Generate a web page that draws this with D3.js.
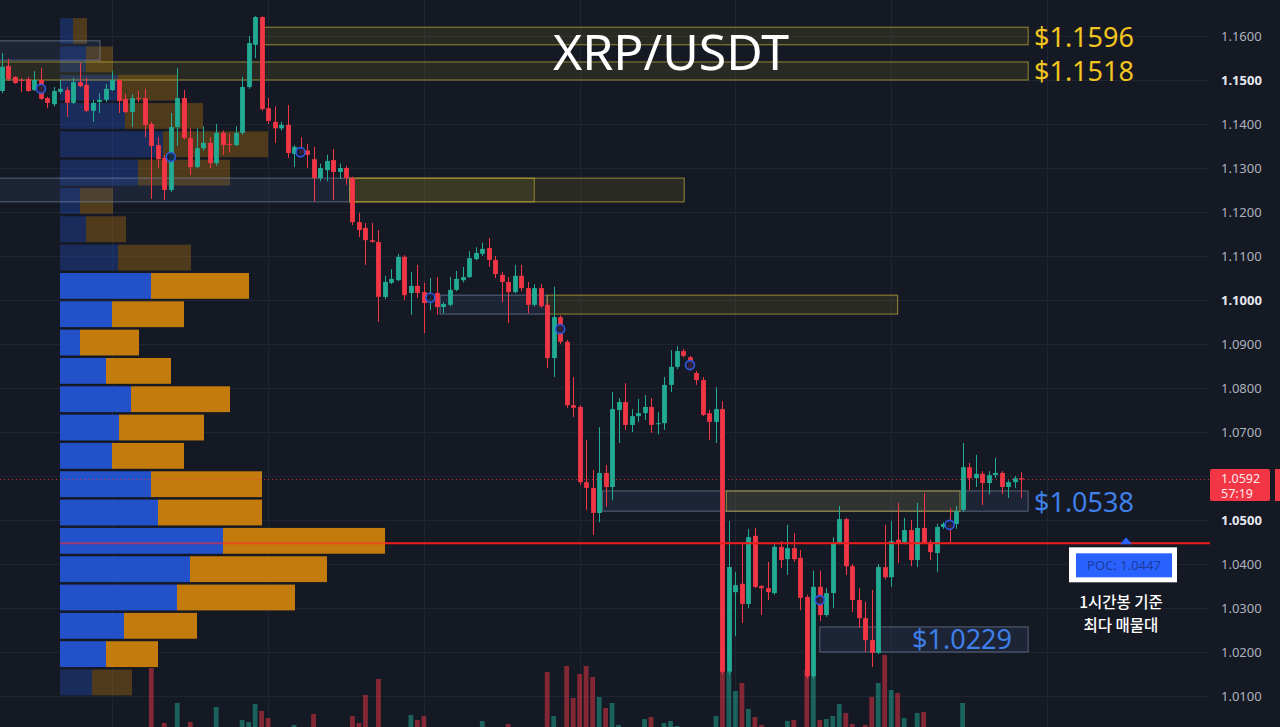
<!DOCTYPE html>
<html>
<head>
<meta charset="utf-8">
<script src="https://cdn.jsdelivr.net/npm/d3@7"></script>
<style>
  body { margin: 0; background: #151924; overflow: hidden; }
  svg { display: block; }
</style>
</head>
<body>
<div id="chart"></div>
<script>
// XRP/USDT 1h candles + volume profile

// candles: [open, high, low, close]
var candles = [
  [1.1475,1.1561,1.1470,1.1530],[1.1532,1.1548,1.1498,1.1502],[1.1507,1.1509,1.1491,1.1493],[1.1500,1.1505,1.1473,1.1498],
  [1.1502,1.1507,1.1473,1.1475],[1.1477,1.1520,1.1475,1.1500],[1.1500,1.1527,1.1455,1.1457],[1.1459,1.1462,1.1436,1.1448],
  [1.1445,1.1484,1.1440,1.1475],[1.1473,1.1500,1.1468,1.1480],[1.1477,1.1484,1.1416,1.1448],[1.1448,1.1505,1.1445,1.1495],
  [1.1495,1.1539,1.1484,1.1486],[1.1489,1.1505,1.1427,1.1430],[1.1430,1.1455,1.1405,1.1448],[1.1450,1.1470,1.1425,1.1455],
  [1.1455,1.1491,1.1450,1.1480],[1.1477,1.1520,1.1475,1.1500],[1.1500,1.1502,1.1425,1.1452],[1.1457,1.1468,1.1425,1.1427],
  [1.1427,1.1468,1.1393,1.1459],[1.1459,1.1475,1.1450,1.1457],[1.1459,1.1480,1.1370,1.1398],[1.1400,1.1405,1.1230,1.1350],
  [1.1352,1.1370,1.1300,1.1320],[1.1323,1.1330,1.1227,1.1250],[1.1250,1.1425,1.1245,1.1393],[1.1393,1.1527,1.1350,1.1459],
  [1.1459,1.1477,1.1365,1.1368],[1.1368,1.1390,1.1284,1.1302],[1.1302,1.1390,1.1300,1.1345],[1.1345,1.1395,1.1340,1.1357],
  [1.1357,1.1370,1.1300,1.1311],[1.1311,1.1400,1.1305,1.1380],[1.1380,1.1385,1.1330,1.1352],[1.1355,1.1378,1.1335,1.1352],
  [1.1352,1.1395,1.1350,1.1380],[1.1380,1.1507,1.1375,1.1484],[1.1484,1.1600,1.1480,1.1584],[1.1580,1.1645,1.1550,1.1643],
  [1.1643,1.1645,1.1430,1.1434],[1.1436,1.1459,1.1400,1.1407],[1.1405,1.1440,1.1357,1.1390],[1.1390,1.1405,1.1385,1.1398],
  [1.1398,1.1443,1.1323,1.1334],[1.1332,1.1352,1.1302,1.1348],[1.1341,1.1370,1.1330,1.1334],[1.1340,1.1355,1.1300,1.1330],
  [1.1320,1.1348,1.1223,1.1277],[1.1277,1.1310,1.1270,1.1300],[1.1295,1.1330,1.1270,1.1316],[1.1318,1.1343,1.1227,1.1291],
  [1.1291,1.1310,1.1275,1.1300],[1.1300,1.1305,1.1262,1.1277],[1.1277,1.1280,1.1170,1.1177],[1.1177,1.1198,1.1143,1.1159],
  [1.1164,1.1175,1.1080,1.1136],[1.1136,1.1175,1.1130,1.1132],[1.1132,1.1159,1.0950,1.1007],[1.1007,1.1055,1.1002,1.1041],
  [1.1039,1.1070,1.1036,1.1048],[1.1045,1.1105,1.1043,1.1098],[1.1098,1.1102,1.1000,1.1011],[1.1016,1.1064,1.0966,1.1032],
  [1.1032,1.1080,1.1005,1.1016],[1.1018,1.1039,1.0925,1.0993],[1.0995,1.1050,1.0977,1.1002],[1.1016,1.1052,1.0966,1.0984],
  [1.0984,1.0995,1.0970,1.0991],[1.0989,1.1052,1.0985,1.1023],[1.1023,1.1066,1.1020,1.1048],[1.1045,1.1075,1.1040,1.1052],
  [1.1052,1.1111,1.1050,1.1095],[1.1093,1.1120,1.1090,1.1107],[1.1105,1.1130,1.1100,1.1116],[1.1118,1.1141,1.1075,1.1091],
  [1.1091,1.1100,1.1050,1.1059],[1.1057,1.1064,1.0995,1.1041],[1.1041,1.1052,1.0948,1.1018],[1.1018,1.1080,1.1015,1.1055],
  [1.1055,1.1080,1.1020,1.1027],[1.1027,1.1041,1.0970,1.0989],[1.0989,1.1036,1.0985,1.1027],[1.1027,1.1036,1.0982,1.0986],
  [1.0989,1.0995,1.0845,1.0868],[1.0868,1.1030,1.0825,1.0961],[1.0961,1.0965,1.0900,1.0905],[1.0905,1.0909,1.0755,1.0761],
  [1.0761,1.0825,1.0734,1.0755],[1.0757,1.0761,1.0580,1.0586],[1.0586,1.0682,1.0523,1.0573],[1.0573,1.0614,1.0466,1.0516],
  [1.0516,1.0711,1.0495,1.0607],[1.0607,1.0625,1.0530,1.0575],[1.0575,1.0791,1.0545,1.0752],[1.0750,1.0777,1.0675,1.0768],
  [1.0768,1.0811,1.0705,1.0716],[1.0716,1.0752,1.0700,1.0736],[1.0736,1.0775,1.0723,1.0743],[1.0743,1.0784,1.0727,1.0757],
  [1.0757,1.0777,1.0698,1.0716],[1.0718,1.0745,1.0695,1.0720],[1.0720,1.0825,1.0705,1.0807],[1.0807,1.0886,1.0791,1.0848],
  [1.0848,1.0895,1.0843,1.0884],[1.0884,1.0889,1.0870,1.0873],[1.0870,1.0873,1.0840,1.0843],[1.0834,1.0839,1.0807,1.0818],
  [1.0818,1.0825,1.0736,1.0739],[1.0743,1.0750,1.0682,1.0723],[1.0723,1.0802,1.0675,1.0752],[1.0752,1.0770,1.0150,1.0155],
  [1.0155,1.0498,1.0150,1.0393],[1.0336,1.0382,1.0236,1.0352],[1.0355,1.0450,1.0266,1.0309],[1.0309,1.0480,1.0300,1.0461],
  [1.0464,1.0482,1.0345,1.0348],[1.0350,1.0352,1.0284,1.0345],[1.0345,1.0405,1.0318,1.0336],[1.0334,1.0445,1.0330,1.0439],
  [1.0439,1.0452,1.0391,1.0409],[1.0411,1.0489,1.0375,1.0436],[1.0436,1.0470,1.0405,1.0411],[1.0414,1.0432,1.0295,1.0323],
  [1.0325,1.0330,1.0140,1.0145],[1.0145,1.0385,1.0140,1.0348],[1.0348,1.0385,1.0270,1.0284],[1.0284,1.0345,1.0280,1.0334],
  [1.0334,1.0461,1.0300,1.0448],[1.0448,1.0532,1.0445,1.0502],[1.0502,1.0505,1.0375,1.0395],[1.0395,1.0400,1.0291,1.0318],
  [1.0318,1.0345,1.0255,1.0277],[1.0277,1.0314,1.0200,1.0227],[1.0227,1.0341,1.0166,1.0198],[1.0198,1.0400,1.0195,1.0393],
  [1.0393,1.0489,1.0365,1.0370],[1.0370,1.0498,1.0348,1.0452],[1.0455,1.0539,1.0402,1.0448],[1.0450,1.0505,1.0445,1.0477],
  [1.0477,1.0500,1.0395,1.0409],[1.0409,1.0539,1.0393,1.0482],[1.0482,1.0561,1.0445,1.0448],[1.0450,1.0455,1.0409,1.0427],
  [1.0425,1.0491,1.0382,1.0484],[1.0484,1.0495,1.0480,1.0491],[1.0489,1.0527,1.0448,1.0482],[1.0491,1.0532,1.0480,1.0520],
  [1.0523,1.0675,1.0518,1.0620],[1.0620,1.0630,1.0568,1.0595],[1.0595,1.0648,1.0575,1.0605],[1.0605,1.0611,1.0534,1.0584],
  [1.0584,1.0611,1.0559,1.0602],[1.0602,1.0641,1.0595,1.0607],[1.0607,1.0611,1.0559,1.0575],[1.0575,1.0590,1.0550,1.0586],
  [1.0586,1.0600,1.0573,1.0595],[1.0595,1.0609,1.0550,1.0592]
];

var volumes = [
  3,3,3,3,3,3,3,3,3,3,
  3,3,3,3,3,3,3,3,3,3,
  3,3,3,67,3,12,3,32,3,13,
  3,3,3,28,3,3,3,15,13,31,
  24,17,3,3,3,10,3,3,21,3,
  3,3,3,3,19,12,40,3,56,3,
  3,3,3,20,15,19,3,3,3,3,
  3,3,3,3,14,3,3,3,11,3,
  3,3,3,3,63,19,3,69,37,61,
  69,58,38,27,32,10,3,3,3,16,
  18,3,12,14,9,3,3,3,3,3,
  19,85,63,44,52,26,18,10,3,3,
  3,14,15,3,65,59,15,16,19,31,
  22,11,3,10,38,52,80,45,42,17,
  3,22,23,3,3,3,3,3,32,3,
  3,3,3,3,3,3,3,3
];

// volume profile, rows top -> bottom
var profileTop = 1.1643, profileBottom = 1.0098;
var profileBuy  = [13,26,58,65,103,78,20,26,58,91,52,20,46,71,59,52,91,98,163,130,117,64,46,32];
var profileSell = [14,27,59,78,105,92,33,40,73,98,72,59,65,99,85,72,111,104,162,137,118,73,52,40];
var valueArea = [9, 22];
var pocPrice = 1.0447;

var gridTicks = [1.16,1.15,1.14,1.13,1.12,1.11,1.10,1.09,1.08,1.07,1.06,1.05,1.04,1.03,1.02,1.01];
var axisTicks = [1.16,1.15,1.14,1.13,1.12,1.11,1.10,1.09,1.08,1.07,1.05,1.04,1.03,1.02,1.01];
var boldTicks = [1.15, 1.10, 1.05];

// zones: start/end candle index, top/bottom price
var zones = [
  {s:-1,   e:15.1,  top:1.1589, bot:1.1545, kind:"blue"},
  {s:40,   e:158.1, top:1.1620, bot:1.1580, kind:"gold"},
  {s:-1,   e:158.1, top:1.1541, bot:1.1500, kind:"gold"},
  {s:-1,   e:53.6,  top:1.1277, bot:1.1223, kind:"blue"},
  {s:53.6, e:82,    top:1.1277, bot:1.1223, kind:"gold"},
  {s:53.6, e:105.1, top:1.1277, bot:1.1223, kind:"gold"},
  {s:67.5, e:84,    top:1.1011, bot:1.0968, kind:"blue"},
  {s:84,   e:138,   top:1.1011, bot:1.0968, kind:"gold"},
  {s:92.5, e:158.1, top:1.0566, bot:1.0520, kind:"blue"},
  {s:111.6,e:147.6, top:1.0566, bot:1.0520, kind:"gold"},
  {s:126,  e:158.1, top:1.0257, bot:1.0200, kind:"blue"}
];
var zoneLabels = [
  {text:"$1.1596", price:1.1596, color:"#f2c420"},
  {text:"$1.1518", price:1.1518, color:"#f2c420"},
  {text:"$1.0538", price:1.0538, color:"#3f7fe8"}
];

var markers = [[6,1.1480],[26,1.1325],[46,1.1336],[66,1.1005],[86,1.0934],[106,1.0852],[126,1.0318],[146,1.0489]];
var lastPrice = 1.0592, countdown = "57:19";

var W = 1280, H = 727, plotRight = 1210;
var up = "#22ab94", down = "#f23645";

var svg = d3.select("#chart").append("svg").attr("width", W).attr("height", H);
svg.append("rect").attr("width", W).attr("height", H).attr("fill", "#151924");

//scales
var x = d3.scaleLinear().domain([0, candles.length - 1]).range([2, 1021]);
var y = d3.scaleLinear().domain([1.01, 1.16]).range([696, 36]);
var vy = d3.scaleLinear().domain([0, 100]).range([735, 635]);
var pw = d3.scaleLinear().domain([0, d3.max(profileBuy, (d,i)=>d + profileSell[i])]).range([0, 325]);
var rowH = (profileTop - profileBottom) / profileBuy.length;

//grid
var grid = svg.append("g");
grid.selectAll(".h").data(gridTicks).enter().append("line")
  .attr("x1", 0).attr("x2", plotRight)
  .attr("y1", d=>Math.round(y(d)) + 0.5).attr("y2", d=>Math.round(y(d)) + 0.5)
  .attr("stroke", "#1f2432");
grid.selectAll(".v").data(d3.range(17, 200, 24).filter(i=>x(i) < 1200)).enter().append("line")
  .attr("x1", d=>Math.round(x(d)) + 0.5).attr("x2", d=>Math.round(x(d)) + 0.5)
  .attr("y1", 0).attr("y2", H)
  .attr("stroke", "#1f2432");

//volume bars
svg.append("g").selectAll("rect").data(volumes).enter().append("rect")
  .attr("x", (d,i)=>x(i) - 2.4).attr("width", 4.8)
  .attr("y", d=>vy(d)).attr("height", d=>vy(0) - vy(d))
  .attr("fill", (d,i)=>candles[i][3] >= candles[i][0] ? up : down)
  .attr("opacity", 0.5);

//volume profile
var prof = svg.append("g");
profileBuy.forEach((b, k)=>{
  var yTop = y(profileTop - k * rowH), yBot = y(profileTop - (k + 1) * rowH);
  var inVA = k >= valueArea[0] && k <= valueArea[1];
  var op = inVA ? 1 : 0.34;
  prof.append("rect").attr("x", 60).attr("y", yTop + 1).attr("width", pw(b)).attr("height", yBot - yTop - 2.5)
    .attr("fill", "#2351c9").attr("opacity", op);
  prof.append("rect").attr("x", 60 + pw(b)).attr("y", yTop + 1).attr("width", pw(profileSell[k])).attr("height", yBot - yTop - 2.5)
    .attr("fill", "#c27b0c").attr("opacity", op);
});

//zones
var zg = svg.append("g");
zones.forEach(z=>{
  var gold = z.kind == "gold";
  zg.append("rect")
    .attr("x", x(z.s)).attr("y", y(z.top))
    .attr("width", x(z.e) - x(z.s)).attr("height", y(z.bot) - y(z.top))
    .attr("fill", gold ? "rgba(150,135,40,0.16)" : "rgba(70,100,150,0.16)")
    .attr("stroke", gold ? "rgba(190,170,60,0.75)" : "rgba(140,160,190,0.55)")
    .attr("stroke-width", 1);
});

//candles
var cg = svg.append("g");
cg.selectAll("line").data(candles).enter().append("line")
  .attr("x1", (d,i)=>Math.round(x(i)) + 0.5).attr("x2", (d,i)=>Math.round(x(i)) + 0.5)
  .attr("y1", d=>y(d[1])).attr("y2", d=>y(d[2]))
  .attr("stroke", d=>d[3] >= d[0] ? up : down);
cg.selectAll("rect").data(candles).enter().append("rect")
  .attr("x", (d,i)=>Math.round(x(i)) + 0.5 - 2.4).attr("width", 4.8)
  .attr("y", d=>y(Math.max(d[0], d[3])))
  .attr("height", d=>Math.max(1, Math.abs(y(d[0]) - y(d[3]))))
  .attr("fill", d=>d[3] >= d[0] ? up : down);

//markers
svg.append("g").selectAll("circle").data(markers).enter().append("circle")
  .attr("cx", d=>x(d[0])).attr("cy", d=>y(d[1])).attr("r", 4.5)
  .attr("fill", "rgba(20,28,55,0.85)").attr("stroke", "#2d5be3").attr("stroke-width", 1.6);

//last price dotted line
svg.append("line")
  .attr("x1", 0).attr("x2", plotRight).attr("y1", y(lastPrice)).attr("y2", y(lastPrice))
  .attr("stroke", down).attr("stroke-dasharray", "1,3").attr("opacity", 0.8);

//POC line
svg.append("line")
  .attr("x1", 60).attr("x2", 60 + pw(profileBuy[18] + profileSell[18]))
  .attr("y1", y(pocPrice)).attr("y2", y(pocPrice))
  .attr("stroke", "#ff2a2a").attr("stroke-width", 2).attr("opacity", 0.55);
svg.append("line")
  .attr("x1", 60 + pw(profileBuy[18] + profileSell[18])).attr("x2", plotRight)
  .attr("y1", y(pocPrice)).attr("y2", y(pocPrice))
  .attr("stroke", "#f01d1d").attr("stroke-width", 2);

//zone labels
zoneLabels.forEach(l=>{
  svg.append("text").attr("x", 1034).attr("y", y(l.price) + 9)
    .attr("font-family", "Noto Sans, sans-serif").attr("font-size", 27)
    .attr("fill", l.color).text(l.text);
});
svg.append("text").attr("x", 1012).attr("y", y(1.0229) + 9.5)
  .attr("text-anchor", "end")
  .attr("font-family", "Noto Sans, sans-serif").attr("font-size", 27)
  .attr("fill", "#3f7fe8").text("$1.0229");

//title
svg.append("text").attr("x", 671).attr("y", 70)
  .attr("text-anchor", "middle")
  .attr("font-family", "Noto Sans, sans-serif").attr("font-size", 50)
  .attr("fill", "#ffffff").text("XRP/USDT");

//y axis
var yAxis = svg.append("g").attr("transform", "translate(" + plotRight + ",0)")
  .call(d3.axisRight(y).tickValues(axisTicks).tickSize(0).tickPadding(11).tickFormat(d3.format(".4f")));
yAxis.select(".domain").remove();
yAxis.selectAll("text")
  .attr("font-family", "Noto Sans, sans-serif").attr("font-size", 13)
  .attr("fill", d=>boldTicks.indexOf(d) >= 0 ? "#e6e8ee" : "#aeb2bd")
  .attr("font-weight", d=>boldTicks.indexOf(d) >= 0 ? "bold" : "normal");

//last price tag
var ly = y(lastPrice);
svg.append("rect").attr("x", plotRight).attr("y", ly - 10.5).attr("width", 60).attr("height", 32)
  .attr("rx", 2).attr("fill", down);
svg.append("rect").attr("x", 1275).attr("y", ly - 10.5).attr("width", 5).attr("height", 32)
  .attr("fill", down);
svg.append("text").attr("x", 1221).attr("y", ly + 3.5)
  .attr("font-family", "Noto Sans, sans-serif").attr("font-size", 12.5)
  .attr("fill", "#fde8ea").text(d3.format(".4f")(lastPrice));
svg.append("text").attr("x", 1221).attr("y", ly + 18.5)
  .attr("font-family", "Noto Sans, sans-serif").attr("font-size", 12.5)
  .attr("fill", "#fde8ea").text(countdown);

//POC callout
var py = y(pocPrice);
svg.append("path")
  .attr("d", "M1120," + (py + 1) + " L1126," + (py - 6) + " L1132," + (py + 1) + "Z")
  .attr("fill", "#2962ff");
svg.append("rect").attr("x", 1069).attr("y", py + 4).attr("width", 108).attr("height", 35).attr("fill", "#ffffff");
svg.append("rect").attr("x", 1076).attr("y", py + 10).attr("width", 96).attr("height", 24).attr("fill", "#2962ff");
svg.append("text").attr("x", 1124).attr("y", py + 27)
  .attr("text-anchor", "middle")
  .attr("font-family", "Noto Sans, sans-serif").attr("font-size", 13)
  .attr("fill", "#1d3c9c").text("POC: " + d3.format(".4f")(pocPrice));
svg.append("text").attr("x", 1121).attr("y", py + 65)
  .attr("text-anchor", "middle")
  .attr("font-family", "Noto Sans CJK KR, sans-serif").attr("font-size", 15.5).attr("font-weight", 500)
  .attr("fill", "#ffffff").text("1시간봉 기준");
svg.append("text").attr("x", 1121).attr("y", py + 88)
  .attr("text-anchor", "middle")
  .attr("font-family", "Noto Sans CJK KR, sans-serif").attr("font-size", 15.5).attr("font-weight", 500)
  .attr("fill", "#ffffff").text("최다 매물대");
</script>
</body>
</html>
